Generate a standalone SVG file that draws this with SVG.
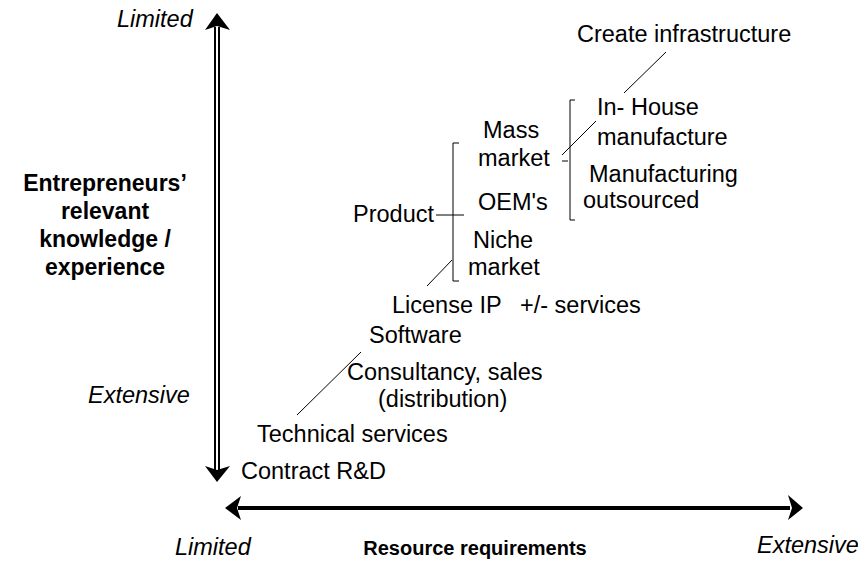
<svg xmlns="http://www.w3.org/2000/svg" width="858" height="566" viewBox="0 0 858 566">
<style>
text{font-family:"Liberation Sans",Arial,sans-serif;font-size:23.5px;fill:#000}
.it{font-style:italic}
.b{font-weight:bold;font-size:23px}
.b2{font-weight:bold;font-size:20px}
.ln{stroke:#000;stroke-width:1;fill:none}
</style>
<rect width="858" height="566" fill="#fff"/>
<g id="axes">
<line x1="217" y1="27" x2="217" y2="470" stroke="#000" stroke-width="6"/>
<line x1="217" y1="26" x2="217" y2="471" stroke="#fff" stroke-width="2"/>
<polygon points="217,13 230,30 217,26 205,30" fill="#000"/>
<polygon points="217,482 205,466 217,470 230,466" fill="#000"/>
<line x1="238" y1="508" x2="790" y2="508" stroke="#000" stroke-width="4"/>
<polygon points="225,508 241,496 237,508 241,520" fill="#000"/>
<polygon points="803,508 788,495 792,508 788,520" fill="#000"/>
</g>
<g id="axis-labels">
<text class="it" x="117" y="27">Limited</text>
<text class="it" x="88" y="403">Extensive</text>
<text class="it" x="175" y="555">Limited</text>
<text class="it" x="757" y="553">Extensive</text>
<text class="b2" x="475" y="555" text-anchor="middle">Resource requirements</text>
<text class="b" text-anchor="middle"><tspan x="105" y="191">Entrepreneurs’</tspan><tspan x="105" y="219">relevant</tspan><tspan x="105" y="247">knowledge /</tspan><tspan x="105" y="275">experience</tspan></text>
</g>
<g id="connectors">
<line class="ln" x1="666" y1="52" x2="624" y2="93"/>
<line class="ln" x1="562" y1="155" x2="596" y2="121"/>
<path class="ln" d="M575,100 H570 V220 H575"/>
<line class="ln" x1="562" y1="161" x2="568" y2="161"/>
<path class="ln" d="M459,143 H453 V281 H459"/>
<line class="ln" x1="436" y1="215" x2="464" y2="215"/>
<line class="ln" x1="427" y1="286" x2="452" y2="260"/>
<line class="ln" x1="361" y1="352" x2="297" y2="415"/>
</g>
<g id="n-create"><text x="577" y="42">Create infrastructure</text></g>
<g id="n-inhouse"><text x="597" y="115">In- House</text><text x="597" y="145">manufacture</text></g>
<g id="n-outsourced"><text x="589" y="182">Manufacturing</text><text x="583" y="208">outsourced</text></g>
<g id="n-mass"><text x="483" y="138">Mass</text><text x="478" y="166">market</text></g>
<g id="n-oem"><text x="478" y="210">OEM's</text></g>
<g id="n-product"><text x="353" y="222">Product</text></g>
<g id="n-niche"><text x="473" y="248">Niche</text><text x="468" y="275">market</text></g>
<g id="n-license"><text x="392" y="313">License IP</text><text x="520" y="313">+/- services</text></g>
<g id="n-software"><text x="369" y="343">Software</text></g>
<g id="n-consult"><text x="347" y="380">Consultancy, sales</text><text x="378" y="407">(distribution)</text></g>
<g id="n-tech"><text x="257" y="442">Technical services</text></g>
<g id="n-contract"><text x="241" y="479">Contract R&amp;D</text></g>
</svg>
